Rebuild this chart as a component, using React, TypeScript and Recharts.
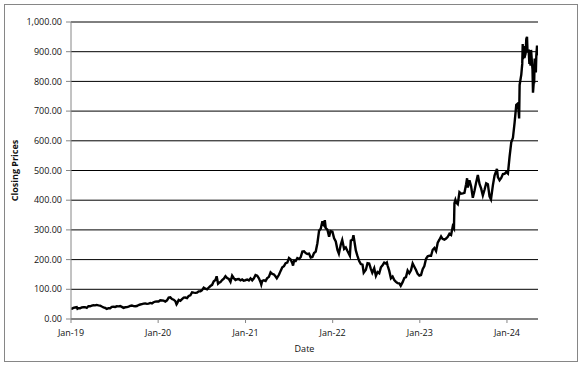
import { LineChart, Line, XAxis, YAxis, CartesianGrid, Label } from "recharts";

// Closing prices (roughly weekly, denser where it moves fast)
const dates = [
  // 2019
  "2019-01-02","2019-01-04","2019-01-11","2019-01-18","2019-01-25","2019-01-28","2019-02-01","2019-02-08","2019-02-15","2019-02-22",
  "2019-03-01","2019-03-08","2019-03-15","2019-03-22","2019-03-29","2019-04-05","2019-04-12","2019-04-18","2019-04-26","2019-05-03",
  "2019-05-10","2019-05-17","2019-05-24","2019-05-31","2019-06-07","2019-06-14","2019-06-21","2019-06-28","2019-07-05","2019-07-12",
  "2019-07-19","2019-07-26","2019-08-02","2019-08-09","2019-08-16","2019-08-23","2019-08-30","2019-09-06","2019-09-13","2019-09-20",
  "2019-09-27","2019-10-04","2019-10-11","2019-10-18","2019-10-25","2019-11-01","2019-11-08","2019-11-15","2019-11-22","2019-11-29",
  "2019-12-06","2019-12-13","2019-12-20","2019-12-27",
  // 2020
  "2020-01-03","2020-01-10","2020-01-17","2020-01-24","2020-01-31","2020-02-07","2020-02-14","2020-02-21","2020-02-28","2020-03-06",
  "2020-03-13","2020-03-18","2020-03-20","2020-03-27","2020-04-03","2020-04-09","2020-04-17","2020-04-24","2020-05-01","2020-05-08",
  "2020-05-15","2020-05-22","2020-05-29","2020-06-05","2020-06-12","2020-06-19","2020-06-26","2020-07-02","2020-07-10","2020-07-17",
  "2020-07-24","2020-07-31","2020-08-07","2020-08-14","2020-08-21","2020-08-28","2020-09-02","2020-09-08","2020-09-11","2020-09-18",
  "2020-09-25","2020-10-02","2020-10-09","2020-10-16","2020-10-23","2020-10-30","2020-11-06","2020-11-13","2020-11-20","2020-11-27",
  "2020-12-04","2020-12-11","2020-12-18","2020-12-24","2020-12-31",
  // 2021
  "2021-01-08","2021-01-15","2021-01-22","2021-01-29","2021-02-05","2021-02-12","2021-02-19","2021-02-26","2021-03-05","2021-03-08",
  "2021-03-12","2021-03-19","2021-03-26","2021-04-01","2021-04-09","2021-04-16","2021-04-23","2021-04-30","2021-05-07","2021-05-12",
  "2021-05-21","2021-05-28","2021-06-04","2021-06-11","2021-06-18","2021-06-25","2021-07-02","2021-07-09","2021-07-16","2021-07-19",
  "2021-07-23","2021-07-30","2021-08-06","2021-08-13","2021-08-20","2021-08-27","2021-09-03","2021-09-10","2021-09-17","2021-09-24",
  "2021-10-01","2021-10-08","2021-10-15","2021-10-22","2021-10-29","2021-11-05","2021-11-12","2021-11-19","2021-11-22","2021-11-26",
  "2021-11-29","2021-12-03","2021-12-10","2021-12-17","2021-12-23","2021-12-31",
  // 2022
  "2022-01-07","2022-01-14","2022-01-21","2022-01-27","2022-02-04","2022-02-10","2022-02-18","2022-02-25","2022-03-04","2022-03-14",
  "2022-03-18","2022-03-25","2022-03-29","2022-04-01","2022-04-08","2022-04-14","2022-04-22","2022-04-29","2022-05-06","2022-05-11",
  "2022-05-20","2022-05-27","2022-06-03","2022-06-10","2022-06-16","2022-06-24","2022-07-01","2022-07-08","2022-07-15","2022-07-22",
  "2022-07-29","2022-08-05","2022-08-12","2022-08-16","2022-08-19","2022-08-26","2022-09-02","2022-09-09","2022-09-16","2022-09-23",
  "2022-09-30","2022-10-07","2022-10-13","2022-10-21","2022-10-28","2022-11-04","2022-11-11","2022-11-18","2022-11-25","2022-12-02",
  "2022-12-09","2022-12-16","2022-12-23","2022-12-30",
  // 2023
  "2023-01-06","2023-01-13","2023-01-20","2023-01-27","2023-02-03","2023-02-10","2023-02-17","2023-02-24","2023-03-03","2023-03-10",
  "2023-03-17","2023-03-24","2023-03-31","2023-04-06","2023-04-14","2023-04-21","2023-04-28","2023-05-05","2023-05-12","2023-05-19",
  "2023-05-24","2023-05-26","2023-05-30","2023-06-02","2023-06-09","2023-06-16","2023-06-23","2023-06-30","2023-07-07","2023-07-14",
  "2023-07-18","2023-07-21","2023-07-28","2023-08-04","2023-08-11","2023-08-18","2023-08-25","2023-09-01","2023-09-08","2023-09-15",
  "2023-09-22","2023-09-29","2023-10-06","2023-10-13","2023-10-20","2023-10-26","2023-11-03","2023-11-10","2023-11-20","2023-11-24",
  "2023-12-01","2023-12-08","2023-12-15","2023-12-22","2023-12-29",
  // 2024
  "2024-01-05","2024-01-12","2024-01-19","2024-01-26","2024-02-02","2024-02-09","2024-02-16","2024-02-21","2024-02-23","2024-03-01",
  "2024-03-05","2024-03-07","2024-03-08","2024-03-12","2024-03-14","2024-03-19","2024-03-22","2024-03-25","2024-03-27","2024-04-01",
  "2024-04-04","2024-04-05","2024-04-09","2024-04-11","2024-04-15","2024-04-17","2024-04-19","2024-04-22","2024-04-24","2024-04-26",
  "2024-04-30","2024-05-01","2024-05-03","2024-05-06","2024-05-09","2024-05-10",
];

const closes = [
  // 2019
  34.1,34.3,37.3,38.6,40.0,34.4,36.3,36.0,38.9,39.9,
  39.7,37.8,43.0,42.9,44.9,46.2,46.0,47.5,45.8,45.0,
  42.0,39.5,37.4,33.9,36.4,36.2,40.8,41.1,40.5,42.8,
  42.5,43.6,40.9,37.5,39.5,40.1,41.9,43.9,45.5,43.4,
  43.0,43.8,47.0,48.8,50.2,51.7,52.4,50.9,52.0,54.2,
  52.7,56.5,58.7,59.0,
  // 2020
  59.0,63.0,62.5,62.0,59.0,63.0,72.0,73.0,67.3,65.0,
  60.0,49.5,52.0,64.0,61.0,66.0,72.0,72.3,70.5,77.5,
  80.0,90.0,88.8,88.0,89.0,93.0,93.5,96.4,105.5,102.0,
  100.0,106.0,111.0,115.0,127.0,131.0,144.0,119.0,121.0,124.0,
  131.0,136.0,144.0,138.0,135.0,125.0,146.0,137.5,131.0,134.0,
  134.5,130.0,133.0,129.0,130.5,
  // 2021
  133.0,130.0,137.0,130.0,137.0,148.0,146.0,137.0,124.0,116.0,
  128.0,130.0,128.0,137.0,142.0,157.0,152.0,150.0,143.0,137.0,
  149.0,162.0,174.0,178.0,188.0,190.0,205.0,200.0,188.0,180.0,
  195.0,195.0,205.0,202.0,208.0,227.0,228.0,222.0,219.0,220.0,
  207.0,209.0,222.0,227.0,255.0,297.0,304.0,329.0,319.0,315.0,
  333.0,306.0,301.0,277.0,296.0,294.0,
  // 2022
  272.0,261.0,233.0,220.0,251.0,266.0,236.0,241.0,229.0,213.0,
  264.0,267.0,282.0,267.0,231.0,214.0,195.0,185.0,183.0,156.0,
  166.0,188.0,187.0,169.0,156.0,171.0,145.0,158.0,154.0,174.0,
  181.0,190.0,187.0,190.0,180.0,162.0,137.0,143.0,131.0,125.0,
  121.0,120.0,112.0,124.0,138.0,141.0,163.0,154.0,164.0,187.0,
  176.0,165.0,152.0,146.0,
  // 2023
  148.0,168.0,178.0,203.0,211.0,213.0,213.0,233.0,239.0,229.0,
  257.0,267.0,278.0,270.0,267.0,271.0,277.0,287.0,283.0,312.0,
  305.0,390.0,401.0,393.0,387.0,427.0,422.0,423.0,425.0,454.0,
  474.0,443.0,467.0,446.0,408.0,432.0,460.0,485.0,455.0,439.0,
  416.0,435.0,457.0,454.0,413.0,403.0,450.0,483.0,505.0,478.0,
  467.0,475.0,488.0,489.0,495.0,
  // 2024
  490.0,547.0,595.0,610.0,661.0,721.0,726.0,675.0,788.0,823.0,
  859.0,926.0,875.0,919.0,879.0,894.0,943.0,950.0,902.0,903.0,
  859.0,880.0,853.0,906.0,860.0,840.0,762.0,795.0,796.0,877.0,
  864.0,830.0,888.0,921.0,887.0,915.0,
];

const tickDates = ["2019-01-01","2020-01-01","2021-01-01","2022-01-01","2023-01-01","2024-01-01"];
const tickLabels = ["Jan-19","Jan-20","Jan-21","Jan-22","Jan-23","Jan-24"];
const yTicks = [0,100,200,300,400,500,600,700,800,900,1000];
const xStart = "2019-01-01";
const xEnd = "2024-05-10";

const data = dates.map((d, i) => ({ t: Date.parse(d), close: closes[i] }));
const xTicks = tickDates.map((d) => Date.parse(d));

const FONT = "'Open Sans', sans-serif";
const AXIS = "#868686";
const TEXT = "#111";

function YTitle({ viewBox }: any) {
  const cy = viewBox.y + viewBox.height / 2;
  return (
    <text
      x={12.5}
      y={cy}
      transform={`rotate(-90, 12.5, ${cy})`}
      textAnchor="middle"
      fontFamily={FONT}
      fontSize={9}
      fontWeight="bold"
      fill={TEXT}
    >
      Closing Prices
    </text>
  );
}

export default function App() {
  return (
    <div
      style={{
        position: "absolute", left: 4, top: 4, width: 572, height: 356,
        border: `1px solid ${AXIS}`, background: "#fff",
      }}
    >
      <LineChart width={572} height={356} data={data} margin={{ top: 17, right: 39, bottom: 0, left: 0 }}>
        <CartesianGrid horizontal vertical={false} stroke="#000" strokeWidth={1} />
        <XAxis
          dataKey="t"
          type="number"
          domain={[Date.parse(xStart), Date.parse(xEnd)]}
          ticks={xTicks}
          tickFormatter={(v) => tickLabels[xTicks.indexOf(v)] ?? ""}
          allowDataOverflow
          height={42}
          stroke={AXIS}
          tickSize={4}
          tickMargin={7}
          tick={{ fill: TEXT, fontSize: 9, fontFamily: FONT }}
        >
          <Label
            value="Date"
            position="insideBottom"
            offset={9.5}
            style={{ fill: TEXT, fontSize: 9, fontFamily: FONT }}
          />
        </XAxis>
        <YAxis
          domain={[0, 1000]}
          ticks={yTicks}
          width={66}
          stroke={AXIS}
          tickSize={5}
          tickMargin={4}
          tickFormatter={(v) =>
            Number(v).toLocaleString("en-US", { minimumFractionDigits: 2, maximumFractionDigits: 2 })
          }
          tick={{ fill: TEXT, fontSize: 9, fontFamily: FONT }}
        >
          <Label content={YTitle} />
        </YAxis>
        <Line
          type="linear"
          dataKey="close"
          stroke="#000"
          strokeWidth={2.4}
          dot={false}
          isAnimationActive={false}
        />
      </LineChart>
    </div>
  );
}
